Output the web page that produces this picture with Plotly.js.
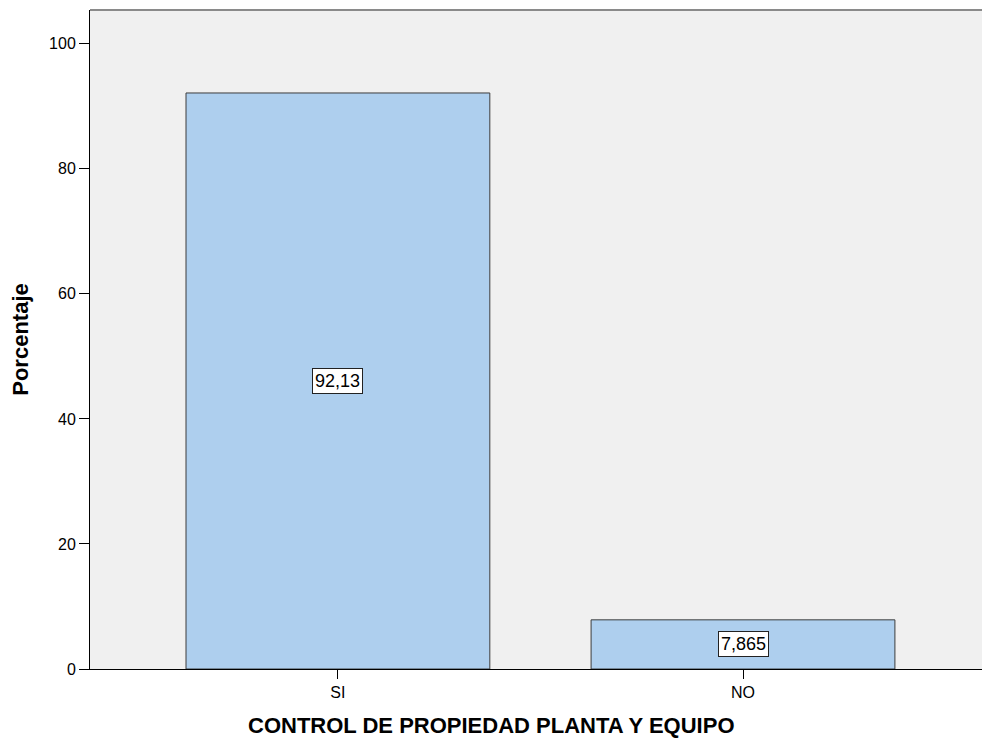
<!DOCTYPE html>
<html>
<head>
<meta charset="utf-8">
<script src="https://cdn.plot.ly/plotly-3.0.1.min.js"></script>
<style>html,body{margin:0;padding:0;background:#fff;}#chart{width:982px;height:739px;}</style>
</head>
<body>
<div id="chart"></div>
<script>
const categories = ["SI", "NO"];
const percentages = [92.13, 7.865];
const valueLabels = ["92,13", "7,865"];
const yTicks = [0, 20, 40, 60, 80, 100];
const xTitle = "CONTROL DE PROPIEDAD PLANTA Y EQUIPO";

const trace = {
  type: "bar",
  x: categories,
  y: percentages,
  width: 0.75,
  marker: {color: "#aecfee", line: {color: "#3c3c3c", width: 1}},
  hoverinfo: "none"
};

const annotations = categories.map((c, i) => ({
  x: c, y: percentages[i] / 2, xref: "x", yref: "y",
  text: valueLabels[i], showarrow: false,
  font: {family: "Liberation Sans, Arial, sans-serif", size: 18, color: "#000"},
  bgcolor: "#ffffff", bordercolor: "#222", borderwidth: 1, borderpad: 2
}));
annotations.push({
  x: 0.4496, y: -0.086, xref: "paper", yref: "paper", xanchor: "center", yanchor: "middle",
  text: xTitle, showarrow: false,
  font: {size: 22, color: "#000", family: "Liberation Sans, Arial, sans-serif", weight: "bold"}
});

const layout = {
  width: 982, height: 739,
  margin: {l: 90, r: 0, t: 10, b: 70},
  paper_bgcolor: "#ffffff",
  plot_bgcolor: "#f0f0f0",
  showlegend: false,
  bargap: 0,
  font: {family: "Liberation Sans, Arial, sans-serif", size: 16, color: "#000"},
  xaxis: {
    type: "category",
    range: [-0.612, 1.59],
    showgrid: false, zeroline: false,
    showline: true, linecolor: "#000", linewidth: 1,
    ticks: "outside", ticklen: 9, tickcolor: "#000",
    tickfont: {size: 16}
  },
  yaxis: {
    range: [0, 105.4],
    tickvals: yTicks,
    showgrid: false, zeroline: false,
    showline: true, linecolor: "#000", linewidth: 1,
    ticks: "outside", ticklen: 10, tickcolor: "#000",
    tickfont: {size: 16},
    title: {text: "Porcentaje", font: {size: 22, color: "#000", family: "Liberation Sans, Arial, sans-serif", weight: "bold"}, standoff: 14}
  },
  annotations: annotations,
  shapes: [{type: "line", xref: "paper", yref: "paper", x0: 0, x1: 1, y0: 1, y1: 1, line: {color: "#8a8a8a", width: 2}}]
};

Plotly.newPlot("chart", [trace], layout, {staticPlot: true, displayModeBar: false});
</script>
</body>
</html>
